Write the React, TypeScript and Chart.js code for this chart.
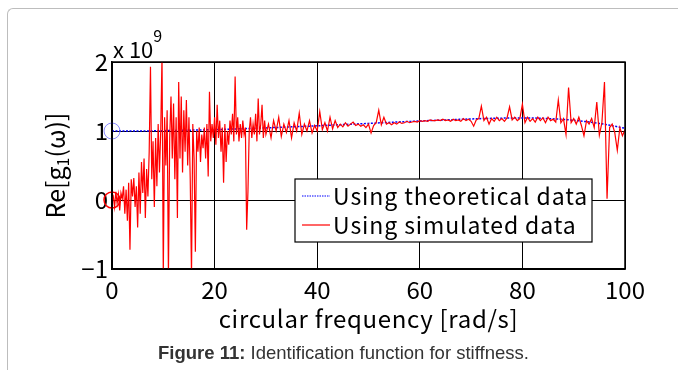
import React, { useEffect, useRef } from "react";
import { Chart, registerables } from "chart.js";
Chart.register(...registerables);

const xTicks = [0, 20, 40, 60, 80, 100];
const yTicks = [-1, 0, 1, 2];

const theoFreq = [0, 5, 10, 15, 20, 25, 30, 35, 40, 45, 50, 55, 60, 65, 70, 75, 80, 85, 90, 95, 100];
const theoValues = [1.0, 1.0, 1.005, 1.012, 1.02, 1.032, 1.045, 1.06, 1.075, 1.093, 1.11, 1.128, 1.145, 1.16, 1.175, 1.185, 1.19, 1.18, 1.155, 1.11, 1.04];

// simulated data, low band: 0 .. 30 rad/s every 0.25
const simLowStart = 0;
const simLowStep = 0.25;
const simLowValues = [
  0.0, 0.05, -0.1, 0.12, -0.05, 0.08, -0.15, 0.1, 0.02, 0.2,
  -0.2, 0.15, -0.3, 0.25, -0.72, 0.3, 0.05, 0.32, -0.1, 0.2,
  -0.4, 0.4, -0.2, 0.55, 0.1, 0.6, -0.26, 0.45, 0.05, 0.7,
  1.93, 0.3, 0.85, -0.1, 0.9, 0.2, 1.1, 0.4, 1.0, 2.1,
  -1.1, 1.2, 0.5, 1.3, -1.1, 0.9, 1.5, 0.6, 1.4, 0.3,
  1.2, -0.26, 1.71, 0.6, 1.5, 0.4, 1.3, 0.7, 1.45, 0.5,
  1.2, 0.3, -1.1, 1.1, 0.6, -0.75, 1.0, 0.7, 1.05, 0.55,
  0.95, 0.75, 1.05, 0.6, 1.1, 0.34, 1.57, 0.85, 1.1, 0.9,
  1.2, 0.8, 1.38, 0.9, 1.15, 0.7, 1.05, 0.25, 1.1, 0.55,
  1.0, 0.8, 1.15, 0.95, 1.25, 0.85, 1.79, 0.95, 1.2, 0.85,
  1.1, 0.9, 1.15, 0.95, 1.05, -0.43, 0.12, 1.0, 1.2, 0.9,
  1.1, 0.95, 1.25, 0.85, 1.47, 0.95, 1.1, 1.38, 0.9, 1.15,
  0.95,
];
// simulated data, high band: 30.5 .. 100 rad/s every 0.5
const simHighStart = 30.5;
const simHighStep = 0.5;
const simHighValues = [
  1.1, 0.9, 1.15, 1.0, 1.2, 0.92, 1.1, 0.98, 1.15, 0.9,
  1.12, 1.0, 1.26, 0.95, 1.1, 1.0, 1.15, 0.97, 1.08, 1.0,
  1.28, 1.02, 1.12, 1.0, 1.2, 1.03, 1.15, 1.05, 1.1, 1.06,
  1.12, 1.07, 1.1, 1.13, 1.08, 1.1, 1.07, 1.09, 1.05, 1.1,
  0.97, 1.08, 1.12, 1.3, 1.09, 1.2, 1.1, 1.12, 1.09, 1.12,
  1.1, 1.13, 1.11, 1.12, 1.14, 1.12, 1.13, 1.14, 1.13, 1.15,
  1.14, 1.15, 1.14, 1.16, 1.15, 1.15, 1.16, 1.15, 1.17, 1.15,
  1.16, 1.14, 1.17, 1.15, 1.16, 1.14, 1.18, 1.15, 1.17, 1.14,
  1.07, 1.16, 1.18, 1.36, 1.15, 1.2, 1.1, 1.18, 1.14, 1.2,
  1.15, 1.18, 1.14, 1.19, 1.35, 1.16, 1.2, 1.15, 1.18, 1.39,
  1.12, 1.2, 1.14, 1.18, 1.13, 1.2, 1.15, 1.19, 1.12, 1.2,
  1.15, 1.17, 1.13, 1.45, 1.12, 1.18, 0.95, 1.63, 1.12, 1.18,
  1.1, 1.2, 1.08, 0.93, 1.15, 1.1, 1.18, 1.05, 1.42, 0.94,
  1.12, 1.71, 0.02, 1.05, 1.1, 0.98, 0.72, 1.05, 0.93, 1.02,
];

const markerFreq = [0, 0];
const markerValues = [1, 0];

const legendLabels = ["Using theoretical data", "Using simulated data"];
const xTitle = "circular frequency [rad/s]";
const captionBold = "Figure 11:";
const captionText = " Identification function for stiffness.";

const TICK_FONT = "'Noto Sans CJK JP', 'Noto Sans', sans-serif";

const overlay = {
  id: "overlay",
  afterDatasetsDraw(chart: any) {
    const { ctx, chartArea: a } = chart;
    ctx.save();
    // plot frame
    ctx.strokeStyle = "#000";
    ctx.lineWidth = 1.5;
    ctx.strokeRect(a.left, a.top, a.right - a.left, a.bottom - a.top);
    // legend box
    const bx = a.left + 183, by = a.top + 117, bw = 297, bh = 63;
    ctx.fillStyle = "#fff";
    ctx.fillRect(bx, by, bw, bh);
    ctx.lineWidth = 1.2;
    ctx.strokeStyle = "#000";
    ctx.strokeRect(bx, by, bw, bh);
    const ys = [by + 17, by + 46];
    ctx.strokeStyle = "#0000ff";
    ctx.lineWidth = 1.2;
    ctx.setLineDash([1.5, 1]);
    ctx.beginPath();
    ctx.moveTo(bx + 7, ys[0]);
    ctx.lineTo(bx + 35, ys[0]);
    ctx.stroke();
    ctx.setLineDash([]);
    ctx.strokeStyle = "#ff0000";
    ctx.beginPath();
    ctx.moveTo(bx + 7, ys[1]);
    ctx.lineTo(bx + 35, ys[1]);
    ctx.stroke();
    ctx.fillStyle = "#000";
    ctx.font = `23px ${TICK_FONT}`;
    (ctx as any).letterSpacing = "0.9px";
    ctx.textBaseline = "middle";
    ctx.textAlign = "left";
    ctx.fillText(legendLabels[0], bx + 38, ys[0]);
    ctx.fillText(legendLabels[1], bx + 38, ys[1]);
    (ctx as any).letterSpacing = "0px";
    ctx.restore();
  },
  afterDraw(chart: any) {
    const { ctx, chartArea: a } = chart;
    ctx.save();
    ctx.fillStyle = "#000";
    ctx.textBaseline = "alphabetic";
    ctx.textAlign = "left";
    ctx.font = `22px ${TICK_FONT}`;
    ctx.fillText("x 10", a.left + 1, a.top - 4);
    const w = ctx.measureText("x 10").width;
    ctx.font = `16px ${TICK_FONT}`;
    ctx.fillText("9", a.left + 1 + w, a.top - 20);
    // x title
    ctx.font = `24px ${TICK_FONT}`;
    (ctx as any).letterSpacing = "0.7px";
    ctx.textAlign = "center";
    ctx.textBaseline = "middle";
    ctx.fillText(xTitle, (a.left + a.right) / 2, a.bottom + 50);
    (ctx as any).letterSpacing = "0px";
    // y title
    ctx.translate(55, (a.top + a.bottom) / 2);
    ctx.rotate(-Math.PI / 2);
    ctx.textAlign = "left";
    ctx.textBaseline = "middle";
    const big = `25px ${TICK_FONT}`;
    const small = `16px ${TICK_FONT}`;
    const parts: [string, string, number][] = [
      ["Re[g", big, 0],
      ["1", small, 8],
      ["(ω)]", big, 0],
    ];
    let total = 0;
    for (const p of parts) { ctx.font = p[1]; total += ctx.measureText(p[0]).width; }
    let x = -total / 2;
    for (const p of parts) {
      ctx.font = p[1];
      ctx.fillText(p[0], x, p[2]);
      x += ctx.measureText(p[0]).width;
    }
    ctx.restore();
  },
};

export default function App() {
  const ref = useRef<HTMLCanvasElement>(null);
  useEffect(() => {
    if (!ref.current) return;
    const simData: { x: number; y: number }[] = [];
    simLowValues.forEach((v, i) => simData.push({ x: simLowStart + i * simLowStep, y: v }));
    simHighValues.forEach((v, i) => simData.push({ x: simHighStart + i * simHighStep, y: v }));
    const theoData = theoFreq.map((f, i) => ({ x: f, y: theoValues[i] }));
    const markData = markerFreq.map((f, i) => ({ x: f, y: markerValues[i] }));
    const chart = new Chart(ref.current, {
      type: "line",
      data: {
        datasets: [
          {
            label: "markers",
            data: markData,
            showLine: false,
            pointRadius: 8,
            pointBorderWidth: [1, 1.5],
            pointBorderColor: ["rgba(90,90,255,0.7)", "#ff0000"],
            pointBackgroundColor: "rgba(0,0,0,0)",
            clip: false,
          } as any,
          {
            label: legendLabels[1],
            data: simData,
            borderColor: "#ff0000",
            borderWidth: 1.2,
            pointRadius: 0,
            tension: 0,
            clip: 0,
          } as any,
          {
            label: legendLabels[0],
            data: theoData,
            borderColor: "#0000ff",
            borderWidth: 1.5,
            borderDash: [2, 1.5],
            pointRadius: 0,
            cubicInterpolationMode: "monotone",
            clip: 0,
          } as any,
        ],
      },
      options: {
        animation: false,
        responsive: false,
        maintainAspectRatio: false,
        layout: { padding: { top: 62, right: 53, left: 0, bottom: 0 } },
        plugins: { legend: { display: false }, tooltip: { enabled: false } },
        scales: {
          x: {
            type: "linear",
            min: 0,
            max: 100,
            afterBuildTicks: (s: any) => { s.ticks = xTicks.map((v) => ({ value: v })); },
            afterFit: (s: any) => { s.height = 101; },
            grid: { color: "#000", lineWidth: 1, drawTicks: false },
            border: { display: true, color: "#000", width: 1.5 },
            ticks: { color: "#000", padding: 6, maxRotation: 0, font: { family: TICK_FONT, size: 24 } },
          },
          y: {
            type: "linear",
            min: -1,
            max: 2,
            afterBuildTicks: (s: any) => { s.ticks = yTicks.map((v) => ({ value: v })); },
            afterFit: (s: any) => { s.width = 112; },
            grid: { color: "#000", lineWidth: 1, drawTicks: false },
            border: { display: true, color: "#000", width: 1.5 },
            ticks: {
              color: "#000",
              padding: 4,
              font: { family: TICK_FONT, size: 24 },
              callback: (v: any) => (Number(v) < 0 ? "\u2212" + Math.abs(Number(v)) : String(v)),
            },
          },
        },
      },
      plugins: [overlay],
    });
    return () => chart.destroy();
  }, []);

  return (
    <div style={{ position: "absolute", left: 0, top: 0, width: 678, height: 370, background: "#fff", overflow: "hidden" }}>
      <div
        style={{
          position: "absolute",
          left: 7,
          top: 8,
          width: 700,
          height: 400,
          borderTop: "1px solid #bdbdbd",
          borderLeft: "1px solid #bdbdbd",
          borderTopLeftRadius: 6,
        }}
      />
      <canvas ref={ref} width={678} height={370} style={{ position: "absolute", left: 0, top: 0, display: "block" }} />
      <div
        style={{
          position: "absolute",
          left: 158,
          top: 342,
          fontFamily: "'Liberation Sans', Arial, sans-serif",
          fontSize: 18.5,
          color: "#333",
          whiteSpace: "nowrap",
        }}
      >
        <b>{captionBold}</b>
        {captionText}
      </div>
    </div>
  );
}
